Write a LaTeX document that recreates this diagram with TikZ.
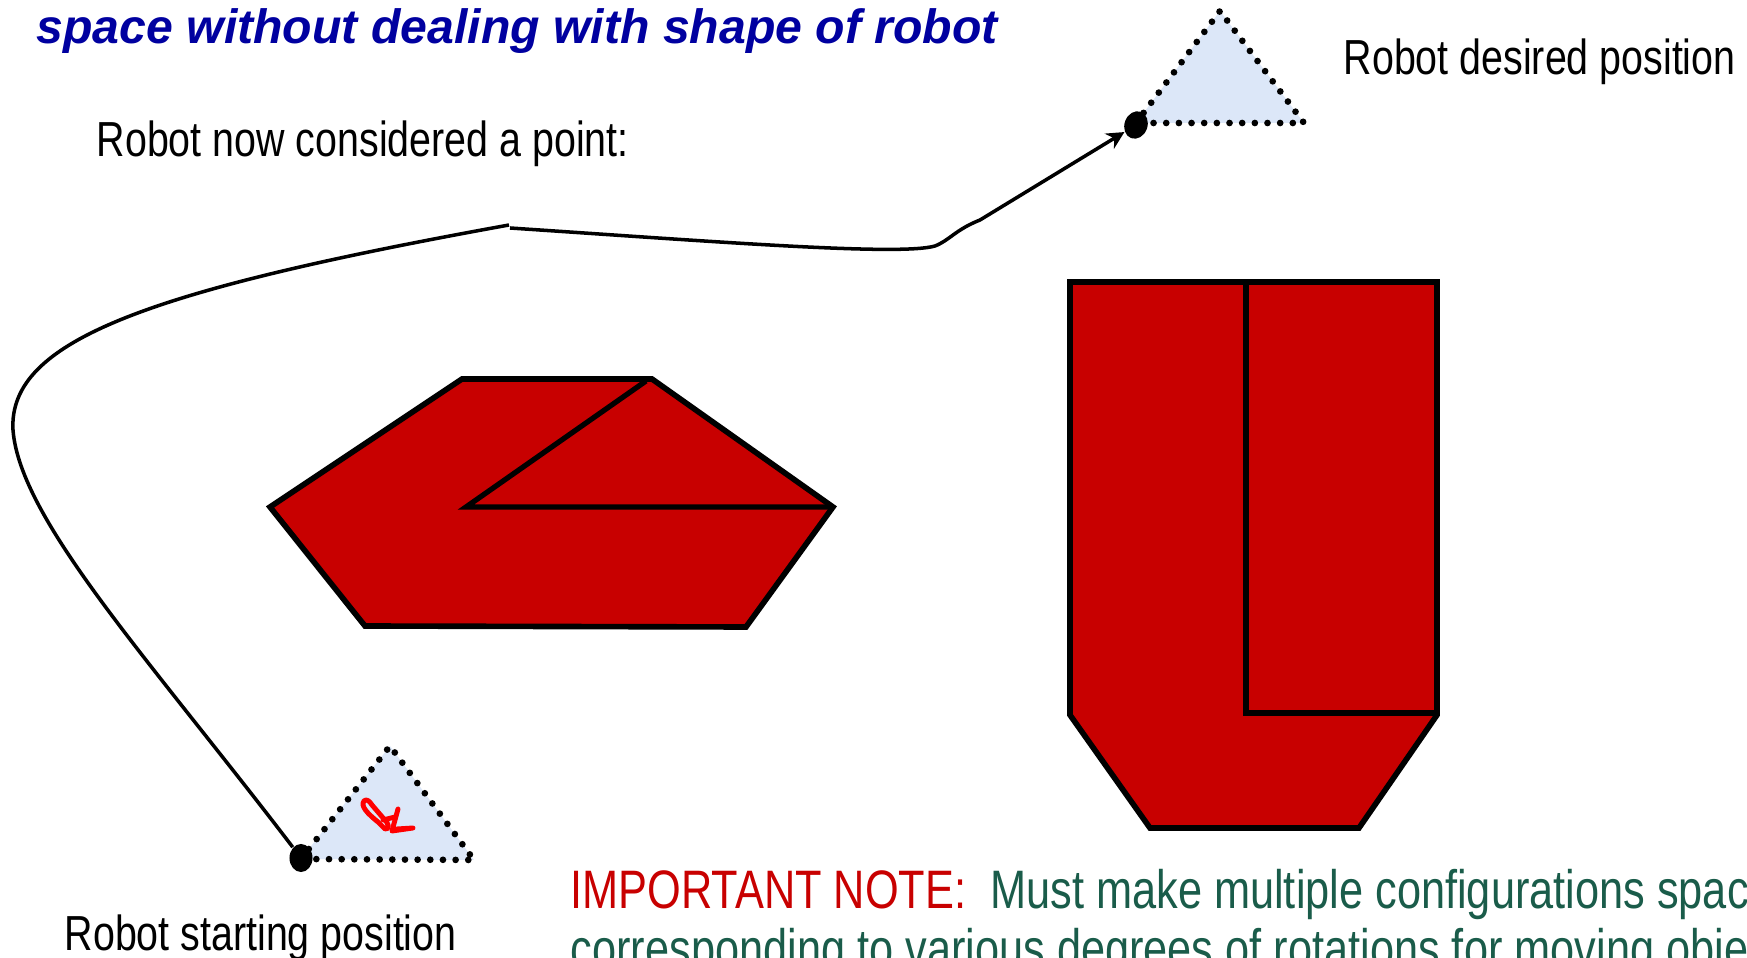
\documentclass[tikz,border=0pt]{standalone}
\usepackage{fontspec}
\setmainfont{Liberation Sans}
\newfontfamily\narrowfont[FakeStretch=0.8]{Liberation Sans}
\usepackage{xcolor}
\usetikzlibrary{positioning, shapes.geometric, arrows.meta}
\definecolor{obred}{HTML}{C80000}
\definecolor{navyblue}{HTML}{0000A0}
\definecolor{notegreen}{HTML}{1A5C4A}
\definecolor{robotblue}{HTML}{DCE7F8}

\begin{document}
\begin{tikzpicture}[
  x=0.01cm, y=-0.01cm,
  obst/.style={fill=obred, draw=black, line width=1.6pt, line join=miter},
  edge/.style={draw=black, line width=1.5pt},
  robot/.style={fill=robotblue, draw=black, line width=1.9pt, line cap=round, dash pattern=on 0pt off 3.6pt},
  pt/.style={ellipse, fill=black, minimum width=0.23cm, minimum height=0.28cm, inner sep=0pt},
  pathline/.style={draw=black, line width=1pt},
  arr/.style={-{Stealth[length=5pt, width=5pt]}},
  lbl/.style={anchor=base west, inner sep=0pt, font=\narrowfont\fontsize{14}{16}\selectfont},
  notelbl/.style={lbl, font=\narrowfont\fontsize{15.4}{17}\selectfont, text=notegreen},
  scrib/.style={draw=red, line width=1.4pt, line cap=round, line join=round}
]
  \useasboundingbox (0,0) rectangle (1747,958);
  \clip (0,0) rectangle (1747,958);

  % headings and labels
  \node[anchor=base west, inner sep=0pt, text=navyblue, font=\fontsize{13.7}{16}\selectfont\bfseries\itshape] (title) at (36,44) {space without dealing with shape of robot};
  \node[lbl] (ptlbl) at (96,157) {Robot now considered a point:};
  \node[lbl] (goallbl) at (1343,75) {Robot desired position};
  \node[lbl] (startlbl) at (64,951) {Robot starting position};
  \node[notelbl] (note) at (570,909) {\textcolor{obred}{IMPORTANT NOTE:}\ \ Must make multiple configurations space};
  \node[notelbl] (note2) at (570,968) {corresponding to various degrees of rotations for moving objects};

  % obstacles
  \path[obst] (462,379) -- (652,379) -- (833,507) -- (746,627) -- (365,626) -- (270,507) -- cycle;
  \path[edge] (646,381) -- (466,507) -- (833,507);
  \path[obst] (1070,282) -- (1437,282) -- (1437,715) -- (1359,828) -- (1150,828) -- (1070,715) -- cycle;
  \path[edge] (1246,285) -- (1246,713) -- (1437,713);

  % robot, start and goal
  \path[robot] (301,859) -- (390,746) -- (474,860) -- cycle;
  \path[robot] (1136,123) -- (1220,11) -- (1304,123) -- cycle;
  \draw[scrib] (364,801) .. controls (360,806) and (368,814) .. (378,822)
    -- (385,829) .. controls (390,830) and (389,823) .. (384,819)
    -- (372,805) .. controls (369,800) and (366,799) .. cycle;
  \draw[scrib] (383,820) -- (395,817);
  \draw[scrib] (398,809) -- (392,831) -- (413,828) -- (397,829);

  \node[pt] (sdot) at (301,858) {};
  \node[pt, rotate=-20] (gdot) at (1136,125) {};

  \coordinate (kink) at (509,225);
  \coordinate (dip) at (935,246);

  % path through free space
  \draw[pathline] (sdot) .. controls (150,660) and (20,520) .. (13,430)
    .. controls (8,340) and (150,290) .. (kink);
  \draw[pathline, arr] (510,228) .. controls (720,242) and (900,256) .. (dip)
    .. controls (950,240) and (955,230) .. (980,220) -- (gdot);
\end{tikzpicture}
\end{document}
